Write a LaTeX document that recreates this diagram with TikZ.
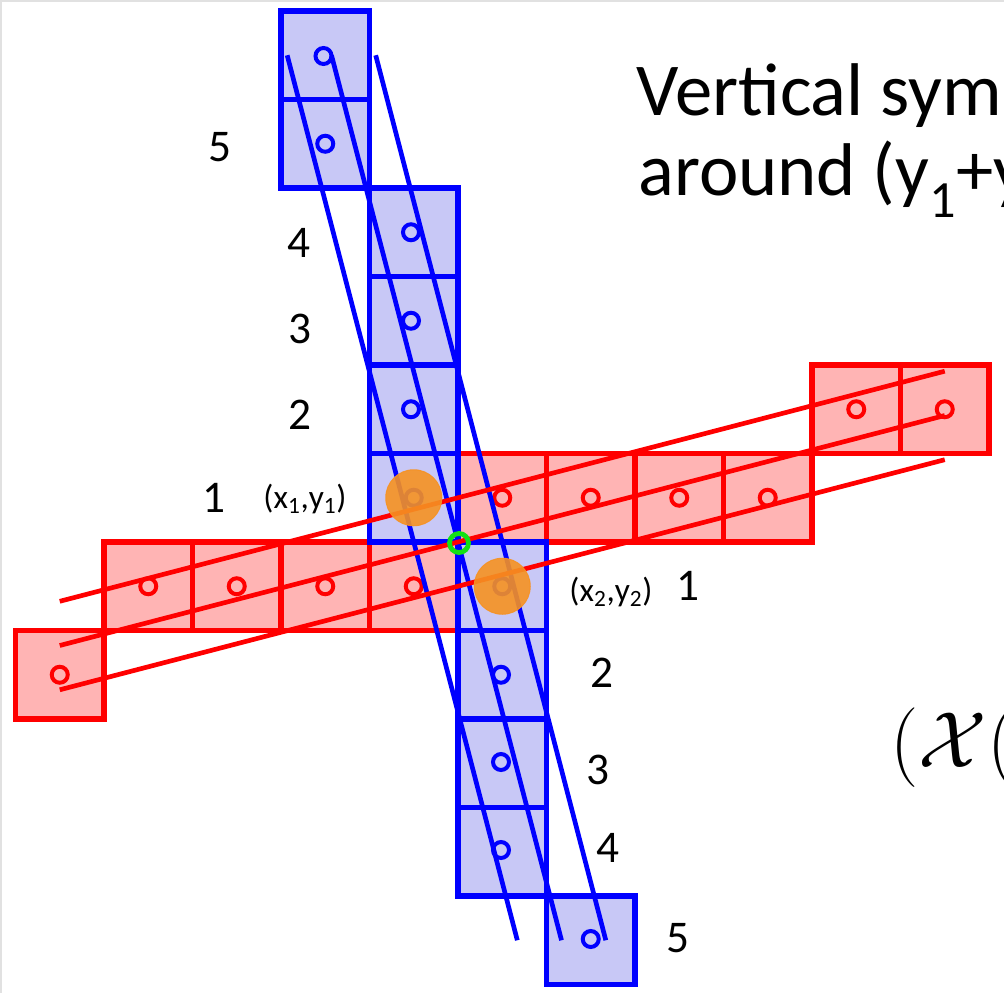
\documentclass[tikz,border=0pt]{standalone}
\usepackage{graphicx}
\usepackage{fontspec}
\setmainfont{Carlito}

\tikzset{every picture/.style={line width=0.75pt}}
\tikzset{
  bluecell/.style={draw={rgb, 255:red, 0; green, 0; blue, 255}, fill={rgb, 255:red, 200; green, 200; blue, 246}, line width=3.9},
  redcell/.style={draw={rgb, 255:red, 255; green, 0; blue, 0}, fill={rgb, 255:red, 255; green, 180; blue, 180}, line width=3.9},
  bluedot/.style={draw={rgb, 255:red, 0; green, 0; blue, 255}, fill={rgb, 255:red, 200; green, 200; blue, 246}, line width=3},
  reddot/.style={draw={rgb, 255:red, 255; green, 0; blue, 0}, fill={rgb, 255:red, 255; green, 180; blue, 180}, line width=3},
  blueline/.style={draw={rgb, 255:red, 0; green, 0; blue, 255}, line width=3.5},
  redline/.style={draw={rgb, 255:red, 255; green, 0; blue, 0}, line width=3.5},
  hitdot/.style={draw={rgb, 255:red, 246; green, 146; blue, 34}, fill={rgb, 255:red, 246; green, 146; blue, 34}, draw opacity=0.9, fill opacity=0.9},
  crossdot/.style={draw={rgb, 255:red, 20; green, 225; blue, 20}, line width=3.6},
  numlabel/.style={inner sep=0.75pt, font=\fontsize{34}{40}\selectfont},
  ptlabel/.style={inner sep=0.75pt, font=\fontsize{25}{30}\selectfont},
  titletext/.style={inner sep=0pt, anchor=base west, font=\fontsize{56}{67}\selectfont},
}

\begin{document}
\begin{tikzpicture}[x=0.75pt,y=0.75pt,yscale=-1,xscale=1]
\useasboundingbox (0,0) rectangle (1004,993);
%Frame
\draw [color={rgb, 255:red, 225; green, 225; blue, 225 }, line width=1.2] (0.8,993) -- (0.8,0.8) -- (1004,0.8) ;

%Red pixels
\draw [redcell] (15.5,630.5) rectangle (104,719) ;
\draw [redcell] (104,542) rectangle (192.5,630.5) ;
\draw [redcell] (192.5,542) rectangle (281,630.5) ;
\draw [redcell] (281,542) rectangle (369.5,630.5) ;
\draw [redcell] (369.5,542) rectangle (458,630.5) ;
\draw [redcell] (458,453.5) rectangle (546.5,542) ;
\draw [redcell] (546.5,453.5) rectangle (635,542) ;
\draw [redcell] (635,453.5) rectangle (723.5,542) ;
\draw [redcell] (723.5,453.5) rectangle (812,542) ;
\draw [redcell] (812,365) rectangle (900.5,453.5) ;
\draw [redcell] (900.5,365) rectangle (989,453.5) ;

%Blue pixels
\draw [bluecell] (281,11) rectangle (369.5,99.5) ;
\draw [bluecell] (281,99.5) rectangle (369.5,188) ;
\draw [bluecell] (369.5,188) rectangle (458,276.5) ;
\draw [bluecell] (369.5,276.5) rectangle (458,365) ;
\draw [bluecell] (369.5,365) rectangle (458,453.5) ;
\draw [bluecell] (369.5,453.5) rectangle (458,542) ;
\draw [bluecell] (458,542) rectangle (546.5,630.5) ;
\draw [bluecell] (458,630.5) rectangle (546.5,719) ;
\draw [bluecell] (458,719) rectangle (546.5,807.5) ;
\draw [bluecell] (458,807.5) rectangle (546.5,896) ;
\draw [bluecell] (546.5,896) rectangle (635,984.5) ;

%Pixel centres
\draw [reddot] (59.75,674.75) circle (8) ;
\draw [reddot] (148.25,586.25) circle (8) ;
\draw [reddot] (236.75,586.25) circle (8) ;
\draw [reddot] (325.25,586.25) circle (8) ;
\draw [reddot] (413.75,586.25) circle (8) ;
\draw [reddot] (502.25,497.75) circle (8) ;
\draw [reddot] (590.75,497.75) circle (8) ;
\draw [reddot] (679.25,497.75) circle (8) ;
\draw [reddot] (767.75,497.75) circle (8) ;
\draw [reddot] (856.25,409.25) circle (8) ;
\draw [reddot] (944.75,409.25) circle (8) ;
\draw [bluedot] (323.5,56) circle (8) ;
\draw [bluedot] (325.25,143.75) circle (8) ;
\draw [bluedot] (411,232.25) circle (8) ;
\draw [bluedot] (411,320.75) circle (8) ;
\draw [bluedot] (411,409.25) circle (8) ;
\draw [bluedot] (413.75,497.75) circle (8) ;
\draw [bluedot] (502.25,586.25) circle (8) ;
\draw [bluedot] (501,674.75) circle (8) ;
\draw [bluedot] (501,762) circle (8) ;
\draw [bluedot] (501,850) circle (8) ;
\draw [bluedot] (590.75,939) circle (8) ;

%Lines
\draw [blueline] (287.2,55.25) -- (517.3,940.25) ;
\draw [blueline] (331.5,55.25) -- (561.5,940.25) ;
\draw [blueline] (375.7,55.25) -- (605.8,940.25) ;
\draw [redline] (59.75,601.3) -- (944.75,371.2) ;
\draw [redline] (59.75,645.5) -- (944.75,415.5) ;
\draw [redline] (59.75,689.8) -- (944.75,459.7) ;

%Hits and crossing
\draw [hitdot] (413.75,497.75) circle (28) ;
\draw [hitdot] (502.25,586.25) circle (28) ;
\draw [crossdot] (459,543) circle (9.5) ;

% Text Node
\draw (220,147) node [numlabel] (topfive) {5};
% Text Node
\draw (299,243) node [numlabel] (topfour) {4};
% Text Node
\draw (300,329) node [numlabel] (topthree) {3};
% Text Node
\draw (300,415) node [numlabel] (toptwo) {2};
% Text Node
\draw (214,498) node [numlabel] (topone) {1};
% Text Node
\draw (305,499) node [ptlabel] (ptone) {(x\textsubscript{1},y\textsubscript{1})};
% Text Node
\draw (611,592) node [ptlabel] (pttwo) {(x\textsubscript{2},y\textsubscript{2})};
% Text Node
\draw (688,586) node [numlabel] (botone) {1};
% Text Node
\draw (602,673) node [numlabel] (bottwo) {2};
% Text Node
\draw (598,770) node [numlabel] (botthree) {3};
% Text Node
\draw (607.5,847.5) node [numlabel] (botfour) {4};
% Text Node
\draw (677.5,938) node [numlabel] (botfive) {5};
% Text Node
\draw (636,115) node [titletext] (titleone) {Vertical sym};
% Text Node
\draw (638,195) node [titletext] (titletwo) {around (y\textsubscript{1}+y};
% Text Node
\draw (890,767) node [inner sep=0pt, anchor=base west] (mathpart) {\scalebox{2.4}{\Huge$(\mathcal{X}($}};

\end{tikzpicture}
\end{document}
